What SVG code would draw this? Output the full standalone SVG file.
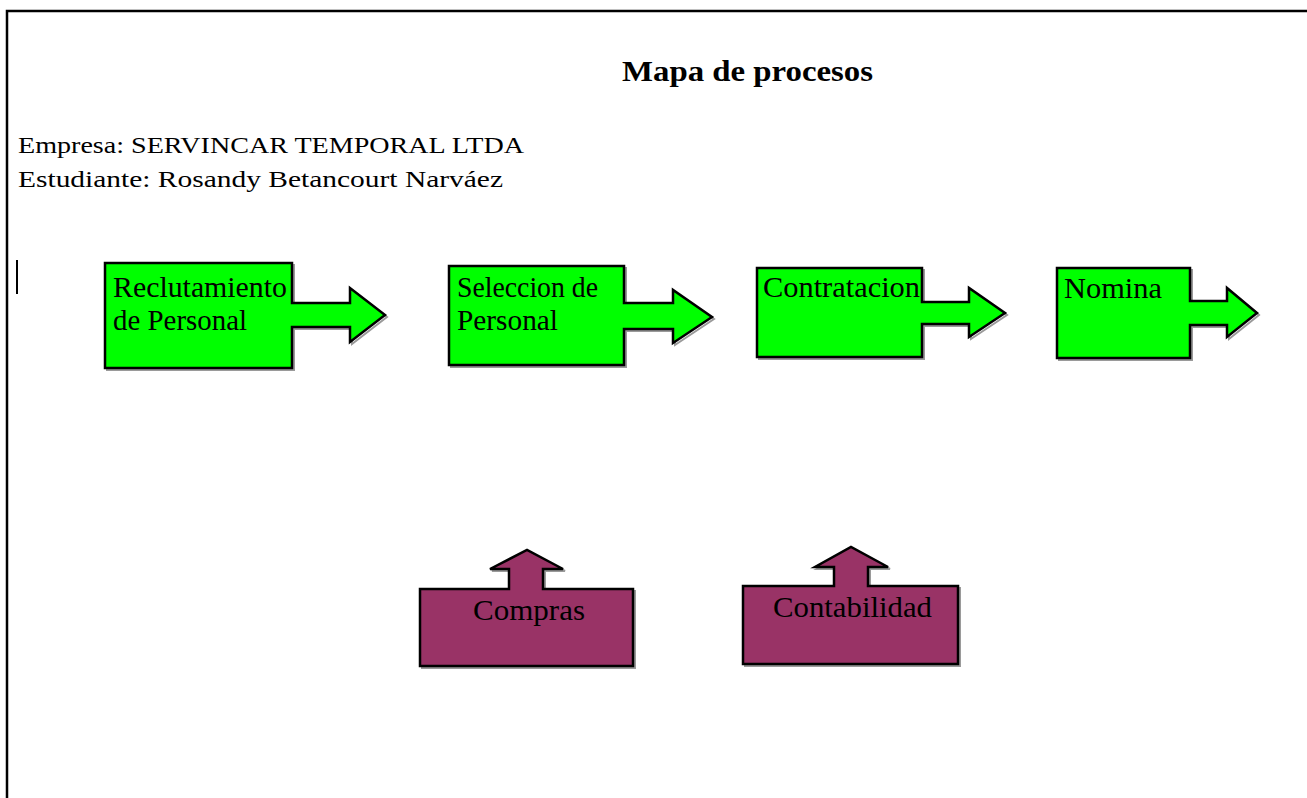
<svg xmlns="http://www.w3.org/2000/svg" xmlns:xlink="http://www.w3.org/1999/xlink" width="1307" height="798" viewBox="0 0 1307 798">
  <style>
    .frame { stroke: #000; stroke-width: 2.5; fill: none; }
    .shape { stroke: #000; stroke-width: 2.5; stroke-linejoin: miter; }
    .shadow { fill: none; stroke: #9a9a9a; stroke-width: 2; }
    .green { fill: #00ff00; }
    .plum { fill: #993366; }
    .label { font-family: "Liberation Serif", "Times New Roman", serif; font-size: 29px; fill: #000; }
    .head { font-family: "Liberation Serif", "Times New Roman", serif; font-size: 24px; fill: #000; }
    .title { font-family: "Liberation Serif", "Times New Roman", serif; font-size: 29px; font-weight: bold; fill: #000; }
  </style>
  <defs>
    <path id="p-recl" d="M105,263 H292 V303 H350 V288 L385,315 L350,342 V327 H292 V368 H105 Z"/>
    <path id="p-sel" d="M449,266 H624 V303 H673 V290 L712,317 L673,343 V329 H624 V365 H449 Z"/>
    <path id="p-cont" d="M757,268 H922 V302 H969 V288 L1005,313 L969,337 V324 H922 V357 H757 Z"/>
    <path id="p-nom" d="M1057,268 H1190 V301 H1227 V288 L1257,313 L1227,337 V325 H1190 V358 H1057 Z"/>
    <path id="p-comp" d="M420,589 H509 V569 H490 L527,550 L563,569 H543 V589 H633 V666 H420 Z"/>
    <path id="p-cbl" d="M743,586 H834 V567 H815 L851,547 L888,567 H868 V586 H958 V664 H743 Z"/>
  </defs>

  <rect width="1307" height="798" fill="#fff"/>

  <!-- page frame -->
  <path class="frame" d="M7,798 V11 H1307"/>
  <!-- text cursor -->
  <line x1="17" y1="260" x2="17" y2="294" stroke="#000" stroke-width="2"/>

  <!-- heading -->
  <text class="title" x="622" y="81" textLength="251" lengthAdjust="spacingAndGlyphs">Mapa de procesos</text>
  <text class="head" x="18" y="153" textLength="506" lengthAdjust="spacingAndGlyphs">Empresa: SERVINCAR TEMPORAL LTDA</text>
  <text class="head" x="18" y="187" textLength="485" lengthAdjust="spacingAndGlyphs">Estudiante: Rosandy Betancourt Narváez</text>

  <!-- connectors: the arrow shapes are part of each process block, no separate lines -->
  <g id="connectors"></g>

  <g id="reclutamiento">
    <use xlink:href="#p-recl" class="shadow" transform="translate(2,2)"/>
    <use xlink:href="#p-recl" class="shape green"/>
    <text class="label" x="113" y="297" textLength="174" lengthAdjust="spacingAndGlyphs">Reclutamiento</text>
    <text class="label" x="113" y="330" textLength="134" lengthAdjust="spacingAndGlyphs">de Personal</text>
  </g>

  <g id="seleccion">
    <use xlink:href="#p-sel" class="shadow" transform="translate(2,2)"/>
    <use xlink:href="#p-sel" class="shape green"/>
    <text class="label" x="457" y="297" textLength="141" lengthAdjust="spacingAndGlyphs">Seleccion de</text>
    <text class="label" x="457" y="330" textLength="101" lengthAdjust="spacingAndGlyphs">Personal</text>
  </g>

  <g id="contratacion">
    <use xlink:href="#p-cont" class="shadow" transform="translate(2,2)"/>
    <use xlink:href="#p-cont" class="shape green"/>
    <text class="label" x="763" y="297" textLength="157" lengthAdjust="spacingAndGlyphs">Contratacion</text>
  </g>

  <g id="nomina">
    <use xlink:href="#p-nom" class="shadow" transform="translate(2,2)"/>
    <use xlink:href="#p-nom" class="shape green"/>
    <text class="label" x="1064" y="298" textLength="98" lengthAdjust="spacingAndGlyphs">Nomina</text>
  </g>

  <g id="compras">
    <use xlink:href="#p-comp" class="shadow" transform="translate(2,2)"/>
    <use xlink:href="#p-comp" class="shape plum"/>
    <text class="label" x="473" y="620" textLength="112" lengthAdjust="spacingAndGlyphs">Compras</text>
  </g>

  <g id="contabilidad">
    <use xlink:href="#p-cbl" class="shadow" transform="translate(2,2)"/>
    <use xlink:href="#p-cbl" class="shape plum"/>
    <text class="label" x="773" y="617" textLength="159" lengthAdjust="spacingAndGlyphs">Contabilidad</text>
  </g>
</svg>
